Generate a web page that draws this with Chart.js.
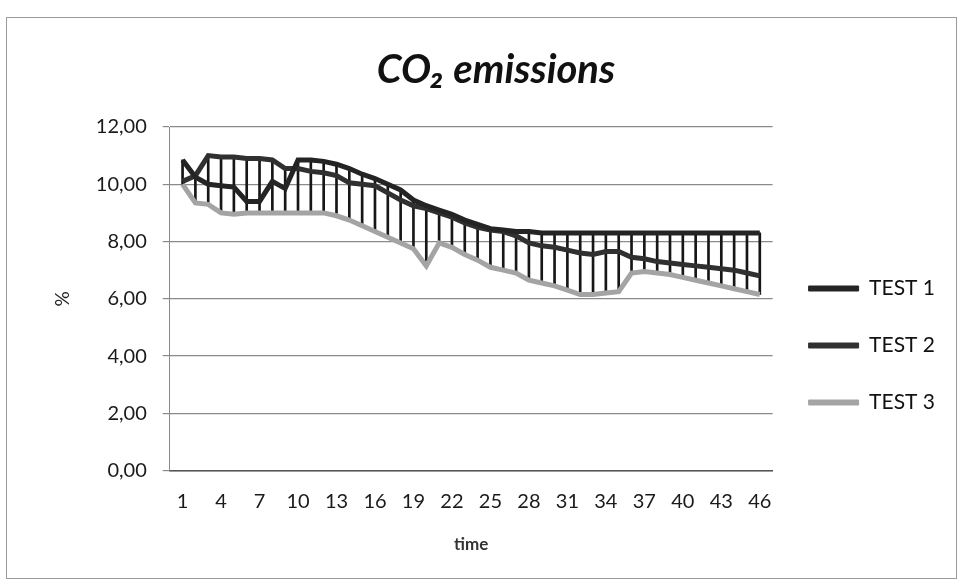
<!DOCTYPE html>
<html>
<head>
<meta charset="utf-8">
<title>CO2 emissions</title>
<script src="https://cdn.jsdelivr.net/npm/chart.js@4"></script>
<style>
  html, body { margin: 0; padding: 0; background: #fff; }
  #frame {
    position: absolute; left: 6px; top: 17px; width: 949px; height: 560px;
    border: 1px solid #9a9a9a; z-index: 2; pointer-events: none;
  }
  #wrap { position: absolute; left: 0; top: 0; width: 961px; height: 587px; }
</style>
</head>
<body>
<div id="frame"></div>
<div id="wrap"><canvas id="co2Chart" width="961" height="587"></canvas></div>
<script>
// time steps 1..46
const times = [1, 2, 3, 4, 5, 6, 7, 8, 9, 10, 11, 12, 13, 14, 15, 16, 17, 18, 19, 20, 21, 22, 23,
  24, 25, 26, 27, 28, 29, 30, 31, 32, 33, 34, 35, 36, 37, 38, 39, 40, 41, 42, 43, 44, 45, 46];
const tickLabels = [1, 4, 7, 10, 13, 16, 19, 22, 25, 28, 31, 34, 37, 40, 43, 46];
const yTicks = [0, 2, 4, 6, 8, 10, 12];

const test1 = [10.85, 10.25, 10.0, 9.95, 9.9, 9.4, 9.4, 10.1, 9.85, 10.85, 10.85, 10.8, 10.7,
  10.55, 10.35, 10.2, 10.0, 9.8, 9.45, 9.25, 9.1, 8.95, 8.75, 8.6, 8.45, 8.4, 8.35, 8.35, 8.3,
  8.3, 8.3, 8.3, 8.3, 8.3, 8.3, 8.3, 8.3, 8.3, 8.3, 8.3, 8.3, 8.3, 8.3, 8.3, 8.3, 8.3];
const test2 = [10.1, 10.3, 11.0, 10.95, 10.95, 10.9, 10.9, 10.85, 10.55, 10.55, 10.45, 10.4,
  10.3, 10.05, 10.0, 9.95, 9.7, 9.45, 9.25, 9.15, 9.0, 8.85, 8.65, 8.5, 8.4, 8.35, 8.2, 7.95,
  7.85, 7.8, 7.7, 7.6, 7.55, 7.65, 7.65, 7.45, 7.4, 7.3, 7.25, 7.2, 7.15, 7.1, 7.05, 7.0, 6.9, 6.8];
const test3 = [10.0, 9.35, 9.3, 9.0, 8.95, 9.0, 9.0, 9.0, 9.0, 9.0, 9.0, 9.0, 8.9, 8.75, 8.55,
  8.35, 8.15, 7.95, 7.75, 7.15, 7.95, 7.8, 7.55, 7.35, 7.1, 7.0, 6.9, 6.65, 6.55, 6.45, 6.3,
  6.15, 6.15, 6.2, 6.25, 6.9, 6.95, 6.9, 6.85, 6.75, 6.65, 6.55, 6.45, 6.35, 6.25, 6.15];

const FONT = 'Lato, "Noto Sans", sans-serif';

function points(values) {
  return times.map((t, i) => ({ x: t, y: values[i] }));
}

// high-low lines between the highest and lowest series at each time step
const hiLo = times.map((t, i) => {
  const vals = [test1[i], test2[i], test3[i]];
  return { x: t, y: [Math.min(...vals), Math.max(...vals)] };
});

const ctx = document.getElementById("co2Chart").getContext("2d");
new Chart(ctx, {
  type: "line",
  data: {
    datasets: [
      {
        label: "TEST 1",
        data: points(test1),
        borderColor: "#242424",
        backgroundColor: "#242424",
        borderWidth: 5,
        pointRadius: 0,
        order: 1,
      },
      {
        label: "TEST 2",
        data: points(test2),
        borderColor: "#303030",
        backgroundColor: "#303030",
        borderWidth: 5,
        pointRadius: 0,
        order: 1,
      },
      {
        label: "TEST 3",
        data: points(test3),
        borderColor: "#a4a4a4",
        backgroundColor: "#a4a4a4",
        borderWidth: 5,
        pointRadius: 0,
        order: 1,
      },
      {
        type: "bar",
        label: "hilo",
        data: hiLo,
        backgroundColor: "#161616",
        barThickness: 2,
        order: 10,
      },
    ],
  },
  options: {
    responsive: false,
    animation: false,
    layout: { padding: { left: 47, right: 16, top: 0, bottom: 28 } },
    plugins: {
      title: {
        display: true,
        text: "CO₂ emissions",
        color: "#111",
        font: { family: FONT, size: 40, weight: "bold", style: "italic" },
        padding: { top: 46, bottom: 33 },
      },
      legend: {
        position: "right",
        align: "center",
        // empty title only pushes the entries down to where the original sits
        title: { display: true, text: " ", font: { size: 10 }, padding: { top: 60, bottom: 60 } },
        labels: {
          generateLabels: (chart) =>
            Chart.defaults.plugins.legend.labels
              .generateLabels(chart)
              .filter((item) => item.text !== "hilo")
              .map((item) => ({ ...item, lineWidth: 1 })),
          boxWidth: 50,
          boxHeight: 5,
          padding: 36,
          color: "#111",
          font: { family: FONT, size: 21 },
        },
      },
      tooltip: { enabled: false },
    },
    scales: {
      x: {
        type: "linear",
        min: 0,
        max: 47,
        offset: false,
        afterBuildTicks: (scale) => {
          scale.ticks = tickLabels.map((v) => ({ value: v }));
        },
        grid: { display: false },
        border: { display: true, color: "#555", width: 1.5 },
        ticks: {
          autoSkip: false,
          maxRotation: 0,
          padding: 11,
          color: "#1a1a1a",
          font: { family: FONT, size: 20 },
        },
        title: {
          display: true,
          text: "time",
          color: "#333",
          font: { family: FONT, size: 17, weight: "bold" },
          padding: { top: 10 },
        },
      },
      y: {
        min: 0,
        max: 12,
        afterBuildTicks: (scale) => {
          scale.ticks = yTicks.map((v) => ({ value: v }));
        },
        grid: { color: "#8a8a8a", lineWidth: 1.2, tickLength: 7 },
        border: { display: true, color: "#8a8a8a" },
        ticks: {
          padding: 16,
          color: "#1a1a1a",
          font: { family: FONT, size: 20 },
          callback: (v) => v.toFixed(2).replace(".", ","),
        },
        title: {
          display: true,
          text: "%",
          color: "#222",
          font: { family: FONT, size: 19 },
          padding: { bottom: 6 },
        },
      },
    },
  },
  plugins: [
    {
      id: "bg",
      beforeDraw(chart) {
        const c = chart.ctx;
        c.save();
        c.fillStyle = "#fff";
        c.fillRect(0, 0, chart.width, chart.height);
        c.restore();
      },
    },
  ],
});
</script>
</body>
</html>
